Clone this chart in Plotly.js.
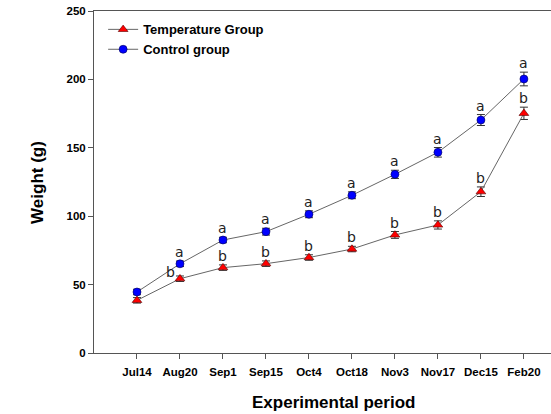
<!DOCTYPE html>
<html><head><meta charset="utf-8">
<script src="https://cdn.plot.ly/plotly-3.0.1.min.js"></script>
<style>html,body{margin:0;padding:0;background:#fff;}#chart{width:551px;height:414px;}</style>
</head><body><div id="chart"></div>
<script>
const categories = ["Jul14","Aug20","Sep1","Sep15","Oct4","Oct18","Nov3","Nov17","Dec15","Feb20"];
const tempValues = [38.5, 54.3, 62.4, 65.3, 69.8, 76, 86.3, 93.6, 117.9, 175.2];
const tempErrors = [2, 2, 2, 2, 2, 2, 2.5, 3, 3.5, 4.5];
const controlValues = [44.6, 65.2, 82.6, 88.7, 101.4, 115.3, 130.6, 146.7, 170.3, 200.3];
const controlErrors = [2, 2, 2, 2.5, 2.5, 2.5, 3, 3.5, 4, 5];
const tempLetters = ["", "b", "b", "b", "b", "b", "b", "b", "b", "b"];
const controlLetters = ["", "a", "a", "a", "a", "a", "a", "a", "a", "a"];
const yTicks = [0, 50, 100, 150, 200, 250];

const idx = categories.map((c, i) => i);
const lineStyle = {color: "#666666", width: 1};
const errStyle = {color: "#333", thickness: 1, width: 4};

const traces = [
  {x: idx, y: tempValues, name: "Temperature Group", type: "scatter", mode: "lines+markers",
   line: lineStyle, marker: {symbol: "triangle-up", size: 8.5, color: "#ff0000", line: {color: "#550000", width: 0.6}},
   error_y: Object.assign({type: "data", array: tempErrors, visible: true}, errStyle)},
  {x: idx, y: controlValues, name: "Control group", type: "scatter", mode: "lines+markers",
   line: lineStyle, marker: {symbol: "circle", size: 8, color: "#0000ff", line: {color: "#000055", width: 0.6}},
   error_y: Object.assign({type: "data", array: controlErrors, visible: true}, errStyle)}
];

const annotations = [];
const letterFont = {family: "DejaVu Sans, Arial", size: 14, color: "#222"};
idx.forEach(i => {
  if (controlLetters[i]) annotations.push({x: i, y: controlValues[i] + controlErrors[i], xref: "x", yref: "y",
    text: controlLetters[i], showarrow: false, yanchor: "bottom", yshift: -1, font: letterFont});
  if (tempLetters[i]) {
    const special = (i === 1);
    annotations.push({x: i, y: tempValues[i] + tempErrors[i], xref: "x", yref: "y",
      text: tempLetters[i], showarrow: false, yanchor: "bottom",
      xshift: special ? -9 : 0, yshift: special ? -6 : -1, font: letterFont});
  }
});
annotations.push({text: "Weight (g)", xref: "paper", yref: "paper", x: -0.125, y: 0.5, showarrow: false,
  textangle: -90, xanchor: "center", yanchor: "middle",
  font: {family: "Liberation Sans, Arial", size: 17, color: "#000", weight: "bold"}});
annotations.push({text: "Experimental period", xref: "paper", yref: "paper", x: 0.524, y: -0.145, showarrow: false,
  xanchor: "center", yanchor: "middle",
  font: {family: "Liberation Sans, Arial", size: 17, color: "#000", weight: "bold"}});

const tickFont = {family: "Liberation Sans, Arial", size: 11.5, color: "#000", weight: "bold"};
const layout = {
  width: 551, height: 414,
  margin: {l: 94, r: 0, t: 11, b: 61},
  paper_bgcolor: "#fff", plot_bgcolor: "#fff",
  showlegend: true,
  legend: {x: 0.02, y: 0.99, xanchor: "left", yanchor: "top", bgcolor: "rgba(0,0,0,0)",
    font: {family: "Liberation Sans, Arial", size: 13, color: "#000", weight: "bold"},
    tracegroupgap: 0, itemwidth: 30},
  xaxis: {range: [-1, 9.63], tickmode: "array", tickvals: idx, ticktext: categories,
    showgrid: false, zeroline: false, showline: true, linecolor: "#555", linewidth: 1, mirror: true,
    ticks: "outside", ticklen: 5, tickcolor: "#555", tickfont: tickFont, ticklabelstandoff: 3},
  yaxis: {range: [0, 250], tickvals: yTicks, showgrid: false, zeroline: false,
    showline: true, linecolor: "#555", linewidth: 1,
    ticks: "outside", ticklen: 5, tickcolor: "#555", tickfont: tickFont},
  annotations: annotations
};
Plotly.newPlot("chart", traces, layout, {displayModeBar: false, staticPlot: true});
</script></body></html>
